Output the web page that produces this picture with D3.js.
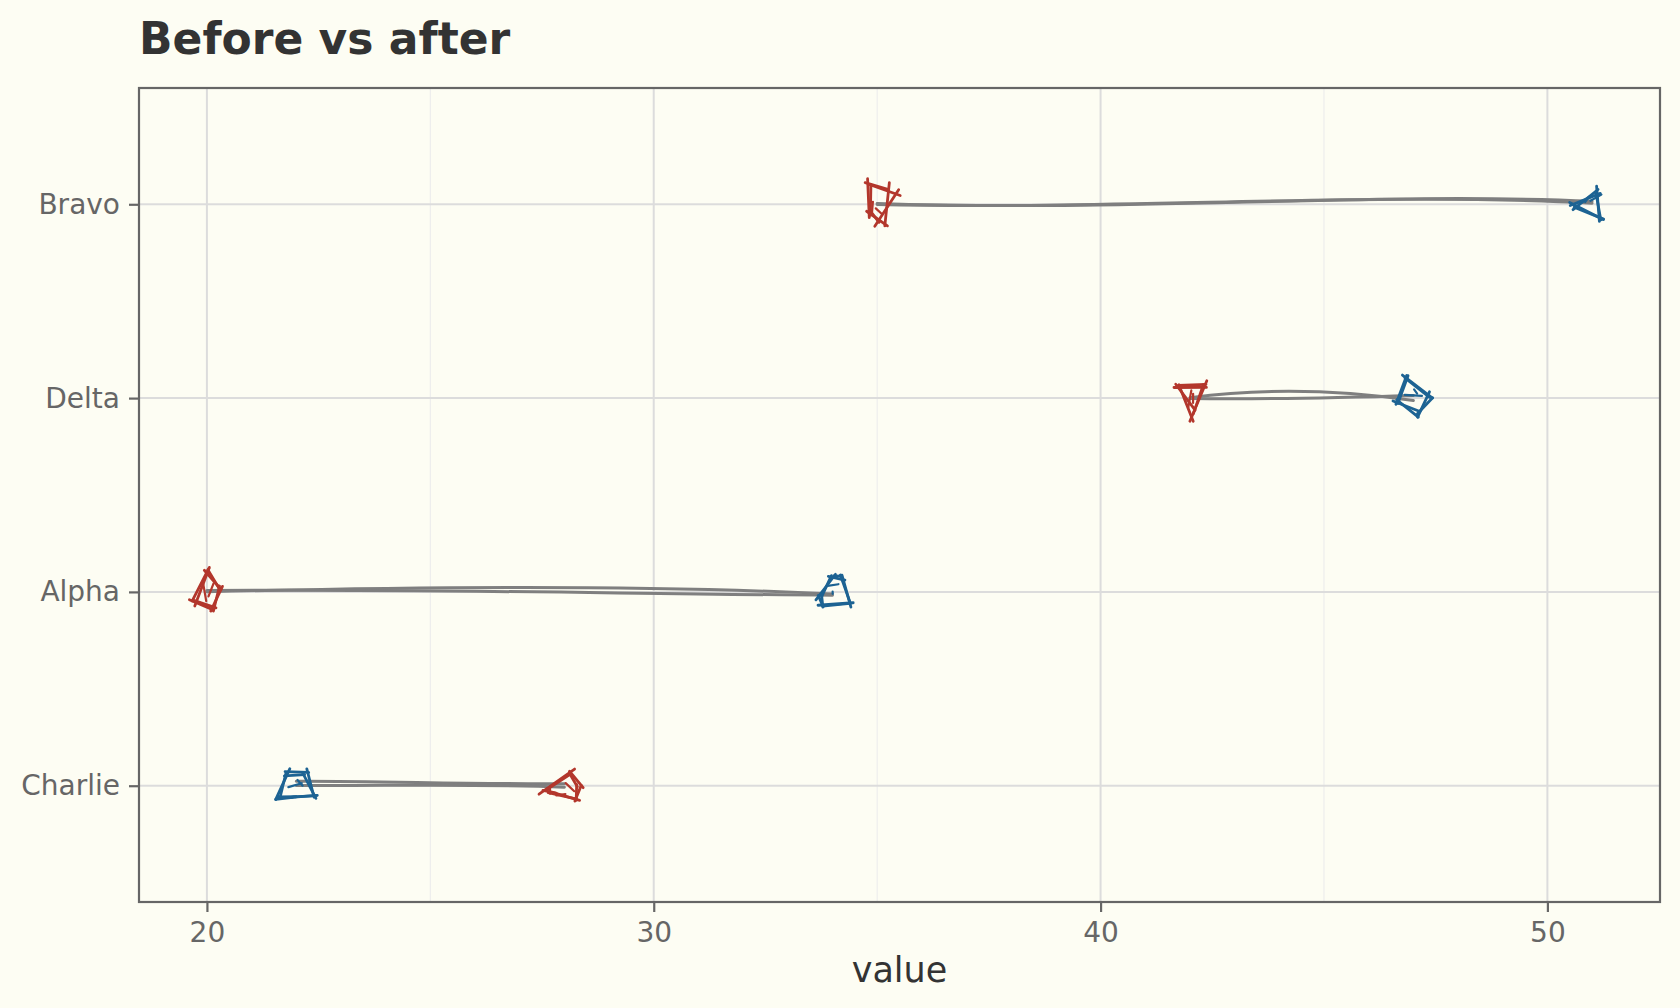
<!DOCTYPE html>
<html>
<head>
<meta charset="utf-8">
<script src="https://cdn.jsdelivr.net/npm/d3@7"></script>
<style>
  html, body { margin: 0; padding: 0; background: #fdfdf3; }
  svg { display: block; }
</style>
</head>
<body>
<svg id="chart" width="1680" height="1008"></svg>
<script>
// data, bottom row first
var categories = ["Charlie", "Alpha", "Delta", "Bravo"];
var before = [28, 20, 42, 35];
var after = [22, 34, 47, 51];
var x_ticks = [20, 30, 40, 50];
var x_minor = [25, 35, 45];
var x_limits = [18.48, 52.52];

var width = 1680, height = 1008;
var margin = {top: 88, right: 20, bottom: 106, left: 139};
var red = "#b3372c", blue = "#1d6393", grey = "#7f7f7f";

var svg = d3.select("#chart");
svg.append("rect").attr("width", width).attr("height", height).style("fill", "#fdfdf3");

var x = d3.scaleLinear().domain(x_limits).range([margin.left, width - margin.right]);
var y = d3.scalePoint().domain(categories).range([height - margin.bottom, margin.top]).padding(0.6);

// small seeded generator, only for the hand-drawn wobble
var seed = 11;
function rnd() {
    seed = (seed * 16807) % 2147483647;
    return (seed - 1) / 2147483646;
}
function jit(a) { return (rnd() * 2 - 1) * a; }

var rows = categories.map((c, i) => ({name: c, before: before[i], after: after[i]}));

function drawGrid(){
    var g = svg.append("g").attr("class", "grid");
    g.selectAll("line.minor")
        .data(x_minor)
        .enter()
        .append("line")
        .attr("class", "minor")
        .attr("x1", d => x(d)).attr("x2", d => x(d))
        .attr("y1", margin.top).attr("y2", height - margin.bottom)
        .style("stroke", "#ececec")
        .style("stroke-width", 1.1);
    g.selectAll("line.major-x")
        .data(x_ticks)
        .enter()
        .append("line")
        .attr("class", "major-x")
        .attr("x1", d => x(d)).attr("x2", d => x(d))
        .attr("y1", margin.top).attr("y2", height - margin.bottom)
        .style("stroke", "#dcdcdc")
        .style("stroke-width", 2);
    g.selectAll("line.major-y")
        .data(categories)
        .enter()
        .append("line")
        .attr("class", "major-y")
        .attr("x1", margin.left).attr("x2", width - margin.right)
        .attr("y1", d => y(d)).attr("y2", d => y(d))
        .style("stroke", "#dcdcdc")
        .style("stroke-width", 2);
}

function drawAxes(){
    var xa = svg.append("g")
        .attr("transform", "translate(0," + (height - margin.bottom) + ")")
        .call(d3.axisBottom(x).tickValues(x_ticks).tickSize(10).tickPadding(10).tickFormat(d3.format("d")));
    var ya = svg.append("g")
        .attr("transform", "translate(" + margin.left + ",0)")
        .call(d3.axisLeft(y).tickSize(10).tickPadding(9));
    [xa, ya].forEach(a => {
        a.select(".domain").remove();
        a.selectAll(".tick line").style("stroke", "#666").style("stroke-width", 2.2);
        a.selectAll(".tick text")
            .style("fill", "#666")
            .style("font-family", "DejaVu Sans")
            .style("font-size", "28px");
    });
    xa.selectAll(".tick text").attr("dy", "0.71em");

    svg.append("rect")
        .attr("x", margin.left).attr("y", margin.top)
        .attr("width", width - margin.left - margin.right)
        .attr("height", height - margin.top - margin.bottom)
        .style("fill", "none")
        .style("stroke", "#666")
        .style("stroke-width", 2.2);

    svg.append("text")
        .attr("x", (margin.left + width - margin.right) / 2)
        .attr("y", 982)
        .attr("text-anchor", "middle")
        .style("font-family", "DejaVu Sans")
        .style("font-size", "35px")
        .style("fill", "#333")
        .text("value");

    svg.append("text")
        .attr("x", margin.left)
        .attr("y", 54)
        .style("font-family", "DejaVu Sans")
        .style("font-weight", "bold")
        .style("font-size", "44px")
        .style("fill", "#333")
        .text("Before vs after");
}

function drawConnectors(){
    var g = svg.append("g").attr("class", "connectors");
    rows.forEach(d => {
        var x1 = x(d.before), x2 = x(d.after), yy = y(d.name);
        for (var k = 0; k < 2; k++) {
            var p = d3.path();
            p.moveTo(x1, yy + jit(2));
            p.bezierCurveTo(x1 + (x2 - x1) * 0.35, yy + jit(13),
                            x1 + (x2 - x1) * 0.7, yy + jit(13),
                            x2, yy + jit(5));
            g.append("path")
                .attr("d", p.toString())
                .style("fill", "none")
                .style("stroke", grey)
                .style("stroke-width", 3)
                .style("stroke-linecap", "round");
        }
    });
}

function roughShape(cx, cy, col){
    var n = 3 + Math.floor(rnd() * 3);
    var rot = rnd() * Math.PI * 2;
    var pts = [];
    for (var i = 0; i < n; i++) {
        var a = rot + i * 2 * Math.PI / n + jit(0.35);
        var r = 17 + jit(4);
        pts.push([cx + r * Math.cos(a), cy + r * Math.sin(a)]);
    }
    var g = svg.append("g");
    for (var k = 0; k < 2; k++) {
        var jp = pts.map(q => [q[0] + jit(4), q[1] + jit(4)]);
        // each edge drawn a bit past its corners, like a quick pen stroke
        for (var i = 0; i < n; i++) {
            var p0 = jp[i], p1 = jp[(i + 1) % n];
            var dx = p1[0] - p0[0], dy = p1[1] - p0[1];
            var e0 = rnd() * 0.2, e1 = rnd() * 0.2;
            g.append("path")
                .attr("d", d3.line()([[p0[0] - dx * e0, p0[1] - dy * e0],
                                      [p1[0] + dx * e1, p1[1] + dy * e1]]))
                .style("fill", "none")
                .style("stroke", col)
                .style("stroke-width", 2.8)
                .style("stroke-linecap", "round");
        }
    }
    // inner strokes, like the sketchy fill
    for (var m = 0; m < 2; m++) {
        g.append("path")
            .attr("d", d3.line()([[cx + jit(10), cy + jit(10)], [cx + jit(10), cy + jit(10)]]))
            .style("stroke", col)
            .style("stroke-width", 2.2)
            .style("stroke-linecap", "round");
    }
}

function drawPoints(){
    rows.forEach(d => {
        roughShape(x(d.before), y(d.name), red);
        roughShape(x(d.after), y(d.name), blue);
    });
}

drawGrid();
drawConnectors();
drawPoints();
drawAxes();
</script>
</body>
</html>
